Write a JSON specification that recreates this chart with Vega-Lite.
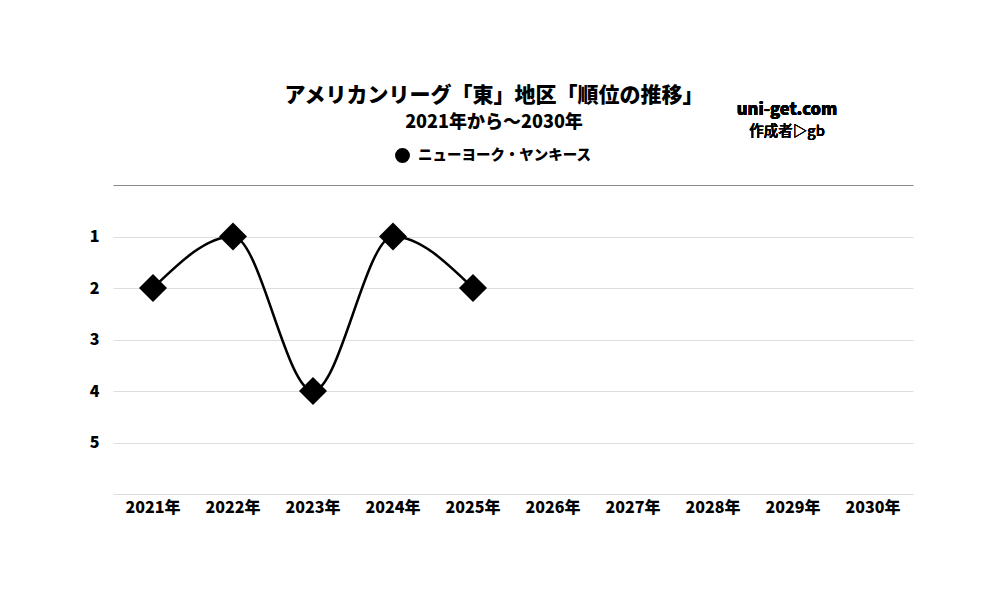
{
  "$schema": "https://vega.github.io/schema/vega-lite/v6.json",
  "autosize": {"type": "none"},
  "width": 800,
  "height": 309,
  "padding": {"left": 113, "top": 185, "right": 87, "bottom": 106},
  "background": "white",
  "config": {
    "font": "Noto Sans CJK JP",
    "view": {"stroke": null}
  },
  "title": {
    "text": "アメリカンリーグ「東」地区「順位の推移」",
    "subtitle": "2021年から～2030年",
    "anchor": "middle",
    "frame": "group",
    "dx": -19,
    "offset": -30,
    "font": "Noto Sans CJK JP",
    "fontSize": 21,
    "fontWeight": 900,
    "color": "#000",
    "subtitleFont": "Noto Sans CJK JP",
    "subtitleFontSize": 18,
    "subtitleFontWeight": 900,
    "subtitleColor": "#000",
    "subtitlePadding": 8
  },
  "data": {
    "values": [
      {"year": "2021年", "team": "ニューヨーク・ヤンキース", "rank": 2},
      {"year": "2022年", "team": "ニューヨーク・ヤンキース", "rank": 1},
      {"year": "2023年", "team": "ニューヨーク・ヤンキース", "rank": 4},
      {"year": "2024年", "team": "ニューヨーク・ヤンキース", "rank": 1},
      {"year": "2025年", "team": "ニューヨーク・ヤンキース", "rank": 2}
    ]
  },
  "encoding": {
    "x": {
      "field": "year",
      "type": "ordinal",
      "scale": {
        "type": "band",
        "domain": ["2021年","2022年","2023年","2024年","2025年","2026年","2027年","2028年","2029年","2030年"],
        "paddingInner": 0,
        "paddingOuter": 0
      },
      "axis": {
        "title": null,
        "labelAngle": 0,
        "labelFont": "Noto Sans CJK JP",
        "labelFontSize": 16,
        "labelFontWeight": 900,
        "labelColor": "#000",
        "labelPadding": 5,
        "ticks": false,
        "domain": false,
        "grid": false
      }
    },
    "y": {
      "field": "rank",
      "type": "quantitative",
      "scale": {"domain": [0, 6], "reverse": true, "nice": false, "zero": false},
      "axis": {
        "title": null,
        "values": [0, 1, 2, 3, 4, 5, 6],
        "labelExpr": "datum.value >= 1 && datum.value <= 5 ? datum.value : ''",
        "labelFont": "Noto Sans CJK JP",
        "labelFontSize": 16,
        "labelFontWeight": 900,
        "labelColor": "#000",
        "labelPadding": 14,
        "ticks": false,
        "domain": false,
        "grid": true,
        "gridColor": {"condition": {"test": "datum.value === 0", "value": "#888888"}, "value": "#dddddd"},
        "gridWidth": 1
      }
    }
  },
  "layer": [
    {
      "mark": {"type": "line", "interpolate": "monotone", "strokeWidth": 2.5},
      "encoding": {
        "color": {
          "field": "team",
          "type": "nominal",
          "scale": {"range": ["#000000"]},
          "legend": {
            "title": null,
            "orient": "none",
            "legendX": 282,
            "legendY": -37,
            "symbolType": "circle",
            "symbolSize": 180,
            "symbolFillColor": "#000",
            "symbolStrokeColor": "#000",
            "labelFont": "Noto Sans CJK JP",
            "labelFontSize": 14.5,
            "labelFontWeight": 900,
            "labelColor": "#000",
            "labelOffset": 8,
            "labelLimit": 400
          }
        }
      }
    },
    {
      "mark": {"type": "point", "shape": "diamond", "filled": true, "size": 784, "color": "#000", "opacity": 1},
      "encoding": {}
    },
    {
      "mark": {"type": "text", "font": "Noto Sans CJK JP", "fontSize": 16.5, "fontWeight": 900, "color": "#000", "dx": -6},
      "encoding": {
        "x": {"datum": "2029年"},
        "y": {"datum": -1.45},
        "text": {"value": "uni-get.com"}
      }
    },
    {
      "mark": {"type": "text", "font": "Noto Sans CJK JP", "fontSize": 14.5, "fontWeight": 500, "color": "#000", "dx": -6},
      "encoding": {
        "x": {"datum": "2029年"},
        "y": {"datum": -1.02},
        "text": {"value": "作成者▷gb"}
      }
    }
  ]
}
